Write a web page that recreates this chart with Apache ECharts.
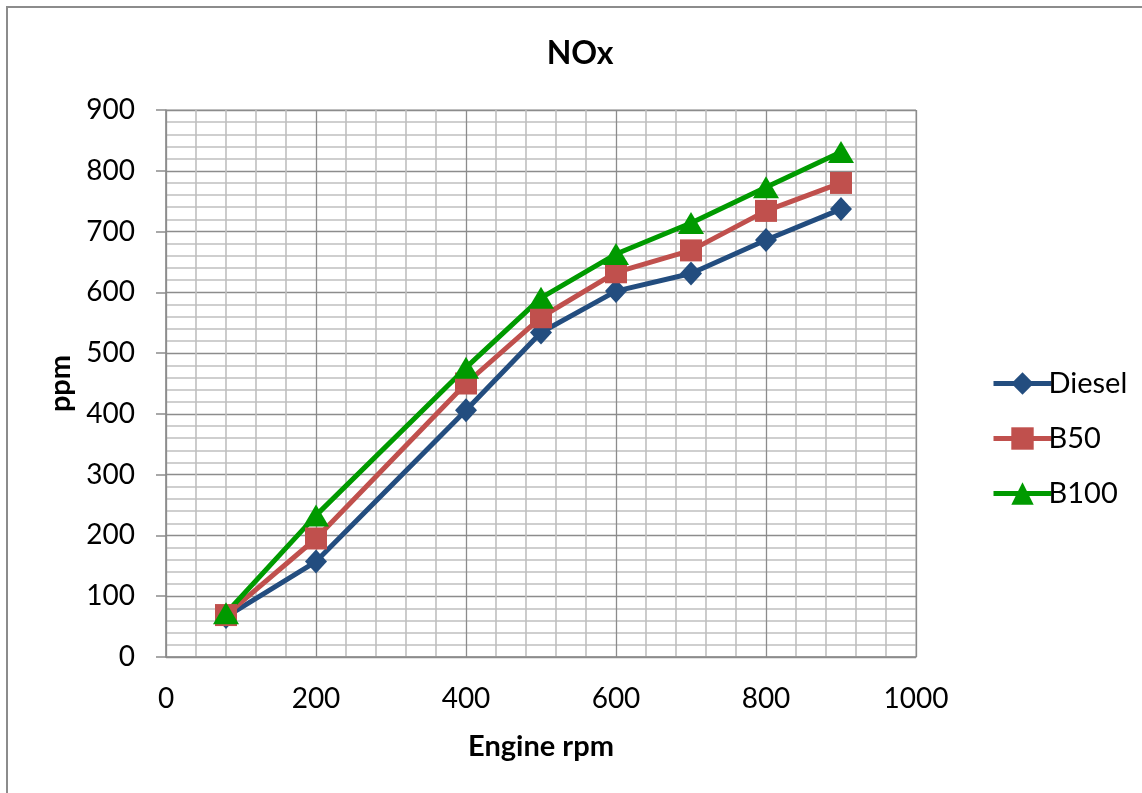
<!DOCTYPE html>
<html><head><meta charset="utf-8">
<script src="https://cdn.jsdelivr.net/npm/echarts@6/dist/echarts.min.js"></script>
<style>html,body{margin:0;padding:0;background:#fff}#c{width:1142px;height:793px}</style>
</head><body><div id="c"></div>
<script>
const rpm = [80, 200, 400, 500, 600, 700, 800, 900];
const diesel = [66, 157, 406, 534, 602, 631, 686, 737];
const b50 = [69, 195, 450, 559, 633, 669, 734, 780];
const b100 = [72, 233, 476, 591, 663, 714, 773, 831];
const seriesNames = ['Diesel', 'B50', 'B100'];
const FONT = 'Lato';

const chart = echarts.init(document.getElementById('c'), null, {renderer: 'canvas'});
function pairs(vals){ return rpm.map((x,i)=>[x, vals[i]]); }
const common = {type:'line', lineStyle:{width:5}, showSymbol:true, z:5};
chart.setOption({
  animation:false,
  backgroundColor:'#fff',
  graphic:[{type:'rect', shape:{x:7,y:7,width:1160,height:820}, style:{fill:'none', stroke:'#8c8c8c', lineWidth:2}, z:-1}],
  title:{text:'NOx', left:575, top:33, textAlign:'center', textStyle:{fontFamily:FONT, fontSize:32, fontWeight:'bold', color:'#000'}},
  legend:{orient:'vertical', left:986, top:364, itemGap:26, itemWidth:58, itemHeight:28,
    lineStyle:{width:5},
    textStyle:{fontFamily:FONT, fontSize:29, color:'#000', padding:[0,0,0,-8]},
    data:seriesNames},
  grid:{left:166, right:226, top:110, bottom:136, containLabel:false,
    show:true, borderColor:'#a0a0a0', borderWidth:1},
  xAxis:{type:'value', min:0, max:1000, interval:200,
    name:'Engine rpm', nameLocation:'middle', nameGap:75,
    nameTextStyle:{fontFamily:FONT, fontSize:29, fontWeight:'bold', color:'#000'},
    axisLine:{show:true, lineStyle:{color:'#8c8c8c', width:1.5}},
    axisTick:{show:false},
    axisLabel:{fontFamily:FONT, fontSize:28, color:'#000', margin:28, formatter:v=>String(v)},
    splitLine:{show:true, lineStyle:{color:'#8c8c8c', width:1.3}},
    minorTick:{show:false, splitNumber:5},
    minorSplitLine:{show:true, lineStyle:{color:'#bfbfbf', width:1.6}}},
  yAxis:{type:'value', min:0, max:900, interval:100,
    name:'ppm', nameLocation:'middle', nameGap:90, nameRotate:90,
    nameTextStyle:{fontFamily:FONT, fontSize:29, fontWeight:'bold', color:'#000'},
    axisLine:{show:true, lineStyle:{color:'#8c8c8c', width:1.5}},
    axisTick:{show:true, length:10, lineStyle:{color:'#8c8c8c', width:1.5}},
    axisLabel:{fontFamily:FONT, fontSize:28, color:'#000', margin:31},
    splitLine:{show:true, lineStyle:{color:'#8c8c8c', width:1.3}},
    minorTick:{show:false, splitNumber:5},
    minorSplitLine:{show:true, lineStyle:{color:'#bfbfbf', width:1.6}}},
  series:[
    Object.assign({}, common, {name:'Diesel', data:pairs(diesel), color:'#234D7F', symbol:'diamond', symbolSize:[22,24]}),
    Object.assign({}, common, {name:'B50', data:pairs(b50), color:'#C0504D', symbol:'rect', symbolSize:22}),
    Object.assign({}, common, {name:'B100', data:pairs(b100), color:'#009A00', symbol:'triangle', symbolSize:[26,22]})
  ]
});
</script></body></html>
